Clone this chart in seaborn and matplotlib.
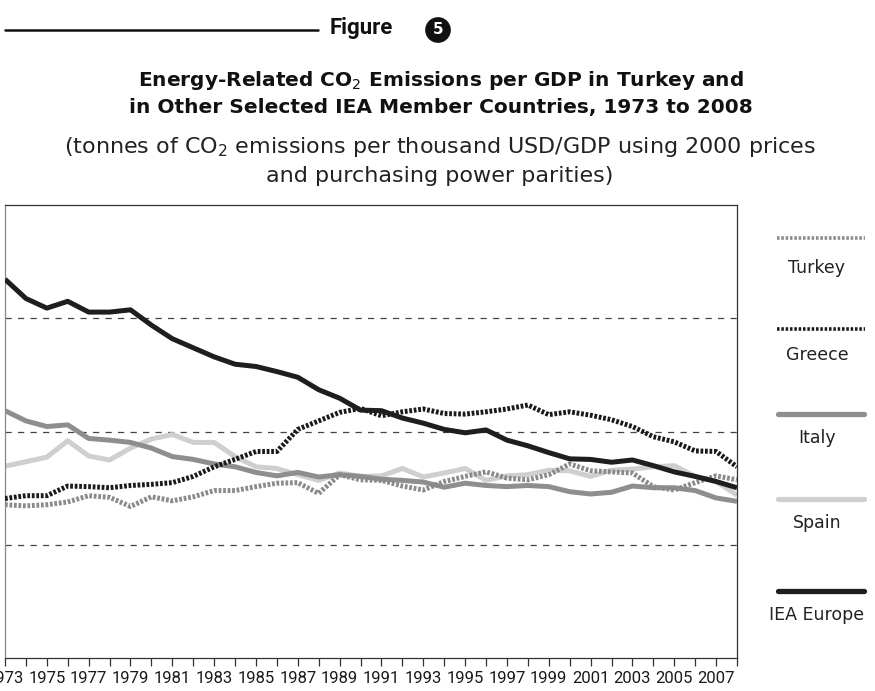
import matplotlib
matplotlib.use("Agg")
import matplotlib.pyplot as plt
import seaborn as sns
import pandas as pd
from matplotlib.lines import Line2D

years = list(range(1973, 2009))
turkey = [0.271, 0.269, 0.271, 0.276, 0.287, 0.284, 0.268, 0.285, 0.278, 0.285,
          0.296, 0.296, 0.303, 0.309, 0.310, 0.291, 0.324, 0.315, 0.314, 0.304,
          0.297, 0.312, 0.321, 0.329, 0.318, 0.315, 0.324, 0.343, 0.331, 0.329,
          0.327, 0.303, 0.297, 0.310, 0.322, 0.315]
greece = [0.282, 0.287, 0.287, 0.304, 0.303, 0.301, 0.305, 0.307, 0.310, 0.321,
          0.338, 0.351, 0.365, 0.365, 0.404, 0.419, 0.434, 0.441, 0.428, 0.435,
          0.440, 0.432, 0.431, 0.435, 0.440, 0.447, 0.430, 0.435, 0.429, 0.421,
          0.409, 0.391, 0.382, 0.366, 0.365, 0.338]
italy = [0.437, 0.419, 0.409, 0.412, 0.388, 0.385, 0.381, 0.371, 0.356, 0.351,
         0.343, 0.338, 0.328, 0.322, 0.328, 0.320, 0.324, 0.321, 0.316, 0.314,
         0.311, 0.302, 0.309, 0.305, 0.303, 0.305, 0.303, 0.294, 0.290, 0.293,
         0.304, 0.301, 0.301, 0.296, 0.283, 0.277]
spain = [0.339, 0.347, 0.355, 0.384, 0.357, 0.350, 0.371, 0.387, 0.395, 0.381,
         0.381, 0.356, 0.338, 0.335, 0.324, 0.314, 0.327, 0.321, 0.322, 0.335,
         0.320, 0.327, 0.335, 0.314, 0.322, 0.324, 0.332, 0.331, 0.321, 0.332,
         0.334, 0.338, 0.340, 0.321, 0.312, 0.288]
iea_europe = [0.669, 0.635, 0.618, 0.630, 0.611, 0.611, 0.615, 0.588, 0.564, 0.548,
              0.532, 0.519, 0.515, 0.506, 0.496, 0.474, 0.459, 0.438, 0.437, 0.424,
              0.415, 0.404, 0.398, 0.403, 0.385, 0.375, 0.363, 0.352, 0.351, 0.346,
              0.350, 0.340, 0.329, 0.321, 0.312, 0.301]

series_names = ["Turkey", "Greece", "Italy", "Spain", "IEA Europe"]
series_values = [turkey, greece, italy, spain, iea_europe]
tick_years = list(range(1973, 2009))
label_years = list(range(1973, 2008, 2))
grid_values = [0.2, 0.4, 0.6]

title_lines = ["Energy-Related CO$_2$ Emissions per GDP in Turkey and",
               "in Other Selected IEA Member Countries, 1973 to 2008"]
subtitle_lines = ["(tonnes of CO$_2$ emissions per thousand USD/GDP using 2000 prices",
                  "and purchasing power parities)"]

df = pd.DataFrame({
    "year": years * len(series_names),
    "value": sum(series_values, []),
    "country": [n for n in series_names for _ in years],
})

sns.set_theme(style="white")
plt.rcParams["font.family"] = ["DejaVu Sans"]
plt.rcParams["mathtext.fontset"] = "custom"
plt.rcParams["mathtext.rm"] = "DejaVu Sans"
plt.rcParams["mathtext.bf"] = "DejaVu Sans:bold"

W, H = 875, 691
fig = plt.figure(figsize=(W / 100, H / 100), dpi=100)
ax = fig.add_axes([5 / W, 1 - 658.3 / H, (737 - 5) / W, (658.3 - 205) / H])

styles = {
    "Spain": dict(color="#cfcfcf", linestyle="-", solid_capstyle="butt", zorder=2),
    "Italy": dict(color="#8e8e8e", linestyle="-", solid_capstyle="butt", zorder=3),
    "Turkey": dict(color="#8a8a8a", linestyle=(0, (0.55, 0.35)), dash_capstyle="butt", zorder=4),
    "Greece": dict(color="#1a1a1a", linestyle=(0, (0.55, 0.35)), dash_capstyle="butt", zorder=5),
    "IEA Europe": dict(color="#1e1e1e", linestyle="-", solid_capstyle="butt", zorder=6),
}
for name in ["Spain", "Italy", "Turkey", "Greece", "IEA Europe"]:
    sub = df[df["country"] == name]
    sns.lineplot(data=sub, x="year", y="value", ax=ax, linewidth=3.6,
                 legend=False, **styles[name])

for g in grid_values:
    ax.axhline(g, color="#444444", linewidth=0.9, linestyle=(0, (5, 5)), zorder=1)

ax.set_xlim(1973, 2008)
ax.set_ylim(0, 0.8)
ax.set_yticks([])
ax.set_xticks(tick_years)
ax.set_xticklabels([str(y) if y in label_years else "" for y in tick_years],
                   fontsize=12, color="#1a1a1a", family=["Roboto", "DejaVu Sans"])
ax.tick_params(axis="x", direction="out", length=6, width=0.9, color="#333333",
               bottom=True, pad=3)
ax.set_xlabel("")
ax.set_ylabel("")
for side, sp in ax.spines.items():
    sp.set_visible(True)
    sp.set_color("#333333")
    sp.set_linewidth(0.9)
ax.spines["left"].set_color("#888888")

# header
fig.add_artist(Line2D([5 / W, 318 / W], [1 - 30 / H, 1 - 30 / H], color="#111111", lw=1.8))
fig.text(361 / W, 1 - 28 / H, "Figure", ha="center", va="center", fontsize=16,
         fontweight="bold", color="#111111", family=["Roboto", "DejaVu Sans"])
fig.text(438 / W, 1 - 30 / H, "5", ha="center", va="center", fontsize=11,
         fontweight="bold", color="white",
         bbox=dict(boxstyle="circle,pad=0.35", fc="#111111", ec="none"))

for i, t in enumerate(title_lines):
    fig.text(441 / W, 1 - (80 + 28 * i) / H, t, ha="center", va="center",
             fontsize=14.5, fontweight="bold", color="#111111")
for i, t in enumerate(subtitle_lines):
    fig.text(440 / W, 1 - (147 + 29 * i) / H, t, ha="center", va="center",
             fontsize=16, color="#222222")

# legend column
leg_sample_y = [238, 329, 414, 499, 591]
leg_label_y = [268, 355, 438, 523, 615]
for name, sy, ly in zip(series_names, leg_sample_y, leg_label_y):
    st = styles[name]
    if name in ("Turkey", "Greece"):
        fig.add_artist(Line2D([777 / W, 865 / W], [1 - sy / H, 1 - sy / H],
                              color=st["color"], lw=2.6,
                              linestyle=(0, (0.7, 0.5)), dash_capstyle="butt"))
    else:
        fig.add_artist(Line2D([778 / W, 864 / W], [1 - sy / H, 1 - sy / H],
                              color=st["color"], lw=3.8, solid_capstyle="round"))
    fig.text(817 / W, 1 - ly / H, name, ha="center", va="center", fontsize=12.5,
             color="#222222")

fig.savefig("out.png", dpi=100)
